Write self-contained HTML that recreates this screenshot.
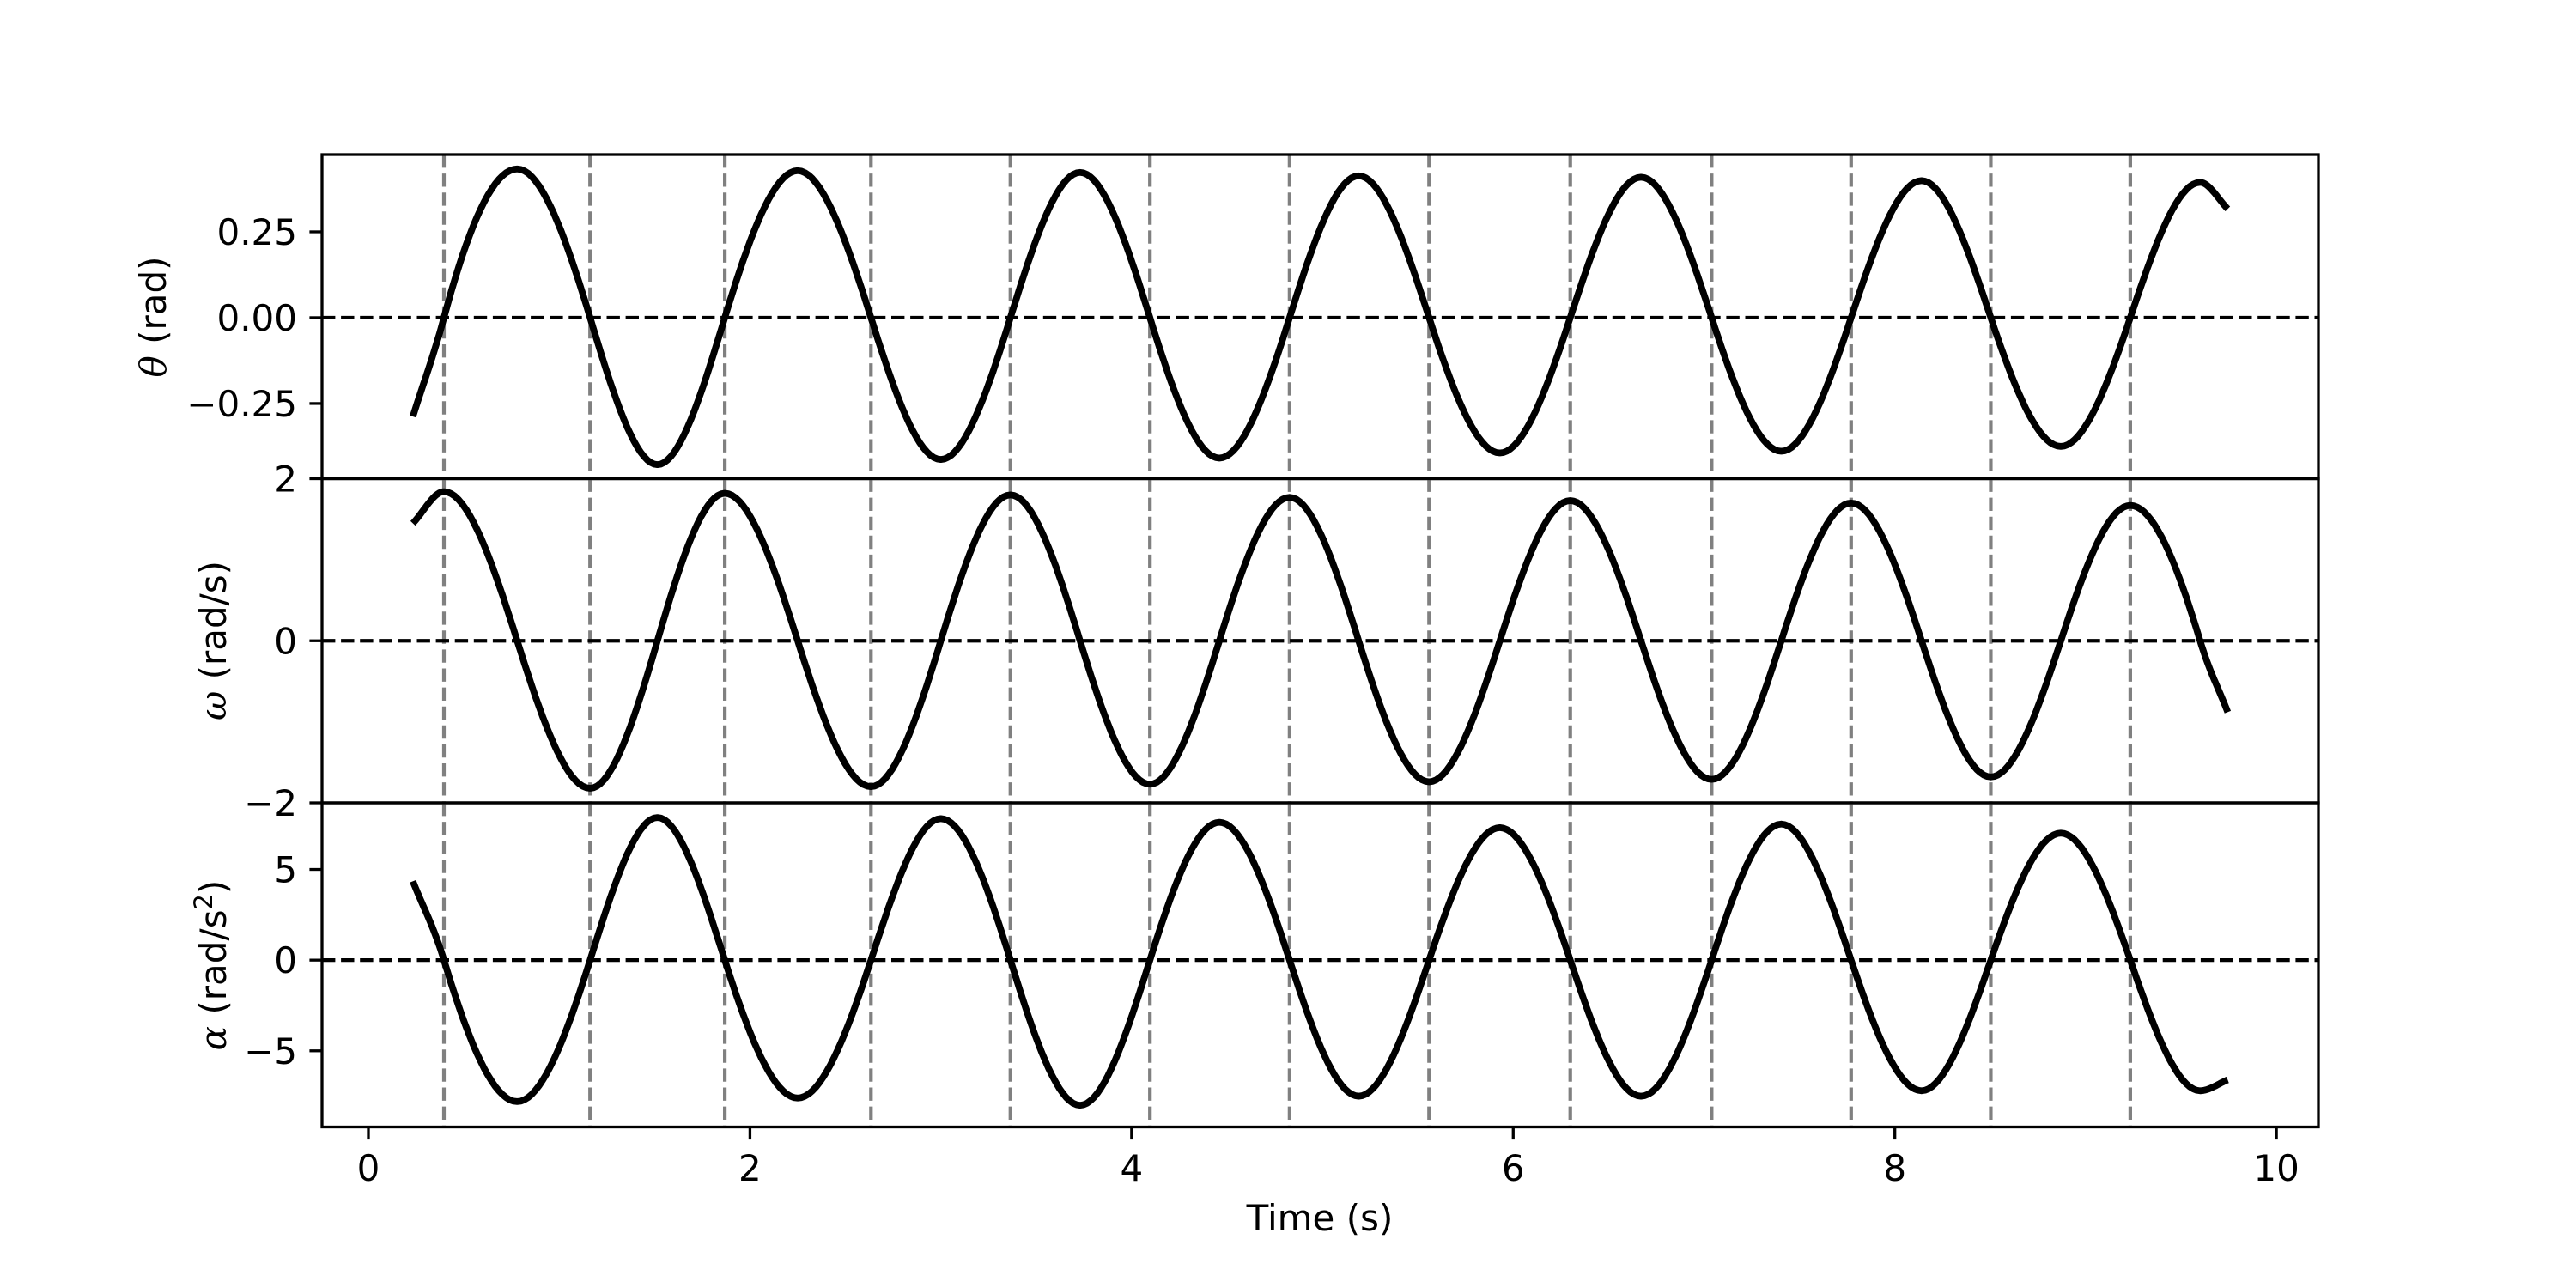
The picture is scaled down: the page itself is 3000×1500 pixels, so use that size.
<!DOCTYPE html>
<html><head><meta charset="utf-8"><title>Pendulum</title>
<style>html,body{margin:0;padding:0;background:#fff}svg{display:block}</style></head>
<body>
<svg id="chart" xmlns="http://www.w3.org/2000/svg" width="3000" height="1500" viewBox="0 0 3000 1500" font-family="'DejaVu Sans','Liberation Sans',sans-serif"></svg>
<script>
const times = [0.233, 0.396, 0.78, 1.162, 1.515, 1.868, 2.25, 2.634, 3.0, 3.365, 3.73, 4.096, 4.46, 4.828, 5.19, 5.559, 5.93, 6.299, 6.67, 7.04, 7.405, 7.771, 8.14, 8.503, 8.87, 9.234, 9.60, 9.745];
const thetaVals = [-0.288, 0, 0.433, 0, -0.428, 0, 0.428, 0, -0.413, 0, 0.423, 0, -0.409, 0, 0.413, 0, -0.394, 0, 0.409, 0, -0.389, 0, 0.399, 0, -0.375, 0, 0.394, 0.317];
const omegaVals = [1.45, 1.84, 0, -1.82, 0, 1.82, 0, -1.80, 0, 1.80, 0, -1.77, 0, 1.77, 0, -1.74, 0, 1.73, 0, -1.71, 0, 1.70, 0, -1.68, 0, 1.67, 0, -0.88];
const alphaVals = [4.35, 0, -7.8, 0, 7.86, 0, -7.6, 0, 7.8, 0, -8.0, 0, 7.6, 0, -7.5, 0, 7.3, 0, -7.5, 0, 7.5, 0, -7.2, 0, 7.0, 0, -7.2, -6.6];
const crossingTimes = [0.396, 1.162, 1.868, 2.634, 3.365, 4.096, 4.828, 5.559, 6.299, 7.04, 7.771, 8.503, 9.234];
const xTicks = [0, 2, 4, 6, 8, 10];
const thetaTicks = [0.25, 0, -0.25];
const thetaTickLabels = ["0.25", "0.00", "\u22120.25"];
const omegaTicks = [2, 0, -2];
const omegaTickLabels = ["2", "0", "\u22122"];
const alphaTicks = [5, 0, -5];
const alphaTickLabels = ["5", "0", "\u22125"];

const NS = "http://www.w3.org/2000/svg";
const svg = document.getElementById('chart');
const L = 375, R = 2700, TOP = 180, BOT = 1312.5;
const ph = (BOT - TOP) / 3;
const xMin = -0.243, xMax = 10.22;
const X = t => L + (t - xMin) / (xMax - xMin) * (R - L);

function el(tag, attrs, parent) {
  const e = document.createElementNS(NS, tag);
  for (const k in attrs) e.setAttribute(k, attrs[k]);
  (parent || svg).appendChild(e);
  return e;
}

const panels = [
  {name: 'theta', vals: thetaVals, lim: [-0.469, 0.475], ticks: thetaTicks, labels: thetaTickLabels},
  {name: 'omega', vals: omegaVals, lim: [-2, 2], ticks: omegaTicks, labels: omegaTickLabels},
  {name: 'alpha', vals: alphaVals, lim: [-9.2, 8.67], ticks: alphaTicks, labels: alphaTickLabels}
];

function curvePath(ts, vs, Y) {
  const n = ts.length, m = [];
  for (let i = 0; i < n; i++) {
    if (i === 0) m.push((vs[1] - vs[0]) / (ts[1] - ts[0]));
    else if (i === n - 1) m.push((vs[n-1] - vs[n-2]) / (ts[n-1] - ts[n-2]));
    else {
      const a = vs[i] - vs[i-1], b = vs[i+1] - vs[i];
      if (a * b <= 0) m.push(0);
      else m.push(Math.PI / 2 * (vs[i+1] - vs[i-1]) / (ts[i+1] - ts[i-1]));
    }
  }
  let d = '';
  for (let i = 0; i < n - 1; i++) {
    const h = ts[i+1] - ts[i];
    for (let k = 0; k <= 20; k++) {
      if (i > 0 && k === 0) continue;
      const s = k / 20, s2 = s*s, s3 = s2*s;
      const v = (2*s3 - 3*s2 + 1) * vs[i] + (s3 - 2*s2 + s) * h * m[i] + (-2*s3 + 3*s2) * vs[i+1] + (s3 - s2) * h * m[i+1];
      const t = ts[i] + s * h;
      d += (d ? 'L' : 'M') + X(t).toFixed(1) + ',' + Y(v).toFixed(1);
    }
  }
  return d;
}

panels.forEach((p, idx) => {
  const top = TOP + idx * ph, bot = top + ph;
  const Y = v => bot - (v - p.lim[0]) / (p.lim[1] - p.lim[0]) * ph;
  const g = el('g', {});
  
  
  crossingTimes.forEach(t => {
    const ln = el('line', {x1: X(t), x2: X(t), y1: top, y2: bot, stroke: '#808080', 'stroke-width': 4.2, 'stroke-dasharray': '15.4 6.7'}, g);
    
    
  });
  const z = el('line', {x1: L, x2: R, y1: Y(0), y2: Y(0), stroke: '#000', 'stroke-width': 4.2, 'stroke-dasharray': '15.4 6.7'}, g);
  
  
  const c = el('path', {d: curvePath(times, p.vals, Y), fill: 'none', stroke: '#000', 'stroke-width': 7.8, 'stroke-linejoin': 'round'}, g);
  
  
  const fr = el('rect', {x: L, y: top, width: R - L, height: ph, fill: 'none', stroke: '#000', 'stroke-width': 3.3}, g);
  
  
  p.ticks.forEach((v, j) => {
    const y = Y(v);
    const tk = el('line', {x1: L - 14.6, x2: L, y1: y, y2: y, stroke: '#000', 'stroke-width': 3.3}, g);
    
    
    const tx = el('text', {x: L - 29, y: y + 15, 'text-anchor': 'end', 'font-size': 42, fill: '#000'}, g);
    tx.textContent = p.labels[j];
    
    
  });
});

xTicks.forEach(v => {
  const tk = el('line', {x1: X(v), x2: X(v), y1: BOT, y2: BOT + 14.6, stroke: '#000', 'stroke-width': 3.3});
  
  
  const tx = el('text', {x: X(v), y: 1375, 'text-anchor': 'middle', 'font-size': 42, fill: '#000'});
  tx.textContent = String(v);
  
  
});
</script>
<svg style="position:absolute;left:0;top:0" width="3000" height="1500" xmlns="http://www.w3.org/2000/svg" font-family="'DejaVu Sans','Liberation Sans',sans-serif" font-size="42">
  <text x="1537" y="1433" text-anchor="middle">Time (s)</text>
  <text transform="translate(193,369) rotate(-90)" text-anchor="middle"><tspan font-style="italic" font-family="'DejaVu Serif','Liberation Serif',serif">θ</tspan> (rad)</text>
  <text transform="translate(263,746) rotate(-90)" text-anchor="middle"><tspan font-style="italic" font-family="'DejaVu Serif','Liberation Serif',serif">ω</tspan> (rad/s)</text>
  <text transform="translate(263,1124) rotate(-90)" text-anchor="middle"><tspan font-style="italic" font-family="'DejaVu Serif','Liberation Serif',serif">α</tspan> (rad/s<tspan font-size="29" dy="-16">2</tspan><tspan dy="16">)</tspan></text>
</svg>
</body></html>
